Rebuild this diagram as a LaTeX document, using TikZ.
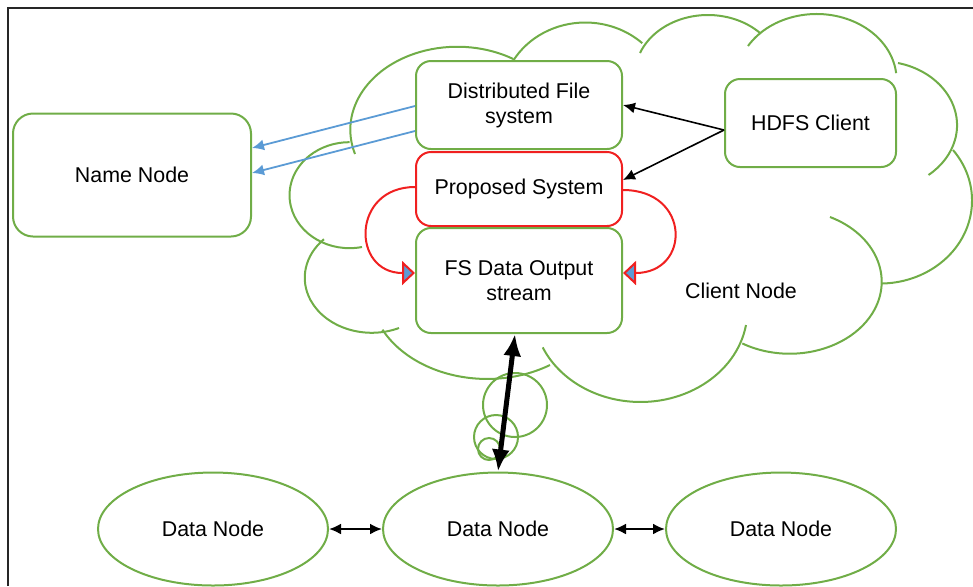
\documentclass[tikz,border=0pt]{standalone}
\usepackage{fontspec}
\setmainfont{Liberation Sans}
\usetikzlibrary{arrows.meta,positioning,shapes.geometric}
\definecolor{cloudgreen}{HTML}{70AD47}
\definecolor{linkblue}{HTML}{5B9BD5}
\definecolor{propred}{HTML}{F02020}

\begin{document}
\begin{tikzpicture}[
  x=0.5pt, y=-0.5pt,
  font=\fontsize{10.7}{12.5}\selectfont,
  box/.style={draw=cloudgreen, line width=1pt, fill=white, rounded corners=7.5pt, align=center, minimum width=103pt, inner sep=2pt},
  redbox/.style={box, draw=propred},
  datanode/.style={ellipse, draw=cloudgreen, line width=1pt, minimum width=115pt, minimum height=56.5pt, inner sep=0pt},
  cloudline/.style={draw=cloudgreen, line width=1pt},
  bluearr/.style={-{Latex[length=6pt,width=5.5pt]}, linkblue, line width=0.9pt},
  blackarr/.style={-{Latex[length=6pt,width=5.5pt]}, line width=0.8pt},
  loopred/.style={-{Triangle[fill=linkblue,length=6.5pt,width=12pt]}, propred, line width=1pt},
  bigarr/.style={{Latex[length=11pt,width=9pt]}-{Latex[length=11pt,width=9pt]}, line width=2.5pt},
  dnarr/.style={{Latex[length=6pt,width=5.5pt]}-{Latex[length=6pt,width=5.5pt]}, line width=1.1pt}
]
\useasboundingbox (0,0) rectangle (973,586);
\draw[line width=0.75pt, black!85] (8,586) -- (8,8) -- (973,8);

% client node cloud
\draw[cloudline] (355,154) arc[start angle=197, end angle=58.5, x radius=53.5pt, y radius=41.5pt];
\draw[cloudline] (513,61) arc[start angle=150, end angle=47, x radius=41.75pt, y radius=38.5pt];
\draw[cloudline] (640,53) arc[start angle=158.5, end angle=43.5, x radius=36.5pt, y radius=30pt];
\draw[cloudline] (748,46) arc[start angle=149, end angle=6, x radius=40pt, y radius=33pt];
\draw[cloudline] (898,63) arc[start angle=76.5, end angle=-51, x radius=38.5pt, y radius=32pt];
\draw[cloudline] (953,150) arc[start angle=37.5, end angle=-89, x radius=46pt, y radius=41.5pt];
\draw[cloudline] (830,217) arc[start angle=64, end angle=-121, x radius=46pt, y radius=36pt];
\draw[cloudline] (746,325) arc[start angle=-9.4, end angle=-156, x radius=53.5pt, y radius=46pt];
\draw[cloudline] (550,365) arc[start angle=-57.5, end angle=-153.5, x radius=58.5pt, y radius=44.5pt];
\draw[cloudline] (399,328) arc[start angle=-66, end angle=-224.5, x radius=33.5pt, y radius=27.5pt];
\draw[cloudline] (362,247) arc[start angle=-78, end angle=-270, x radius=30pt, y radius=26.5pt];
\draw[cloudline] (515,405) circle[radius=16pt];
\draw[cloudline] (496,437) circle[radius=11pt];
\draw[cloudline] (489,449) circle[radius=5.5pt];

\node[box, minimum height=44pt] (dfs) at (519,105) {Distributed File\\system};
\node[redbox, minimum height=37pt, below=0.5pt of dfs] (prop) {Proposed System};
\node[box, minimum height=52.5pt, below=0pt of prop] (fsout) {FS Data Output\\stream};
\node[box, minimum width=119pt, minimum height=61.5pt, rounded corners=10pt] (name) at (132,175) {Name Node};
\node[box, minimum width=85.5pt, minimum height=44pt] (hdfs) at (810.5,123) {HDFS Client};
\node (clienttxt) at (741,291) {Client Node};
\node[datanode] (dn1) at (213,529) {Data Node};
\node[datanode, right=26.5pt of dn1] (dn2) {Data Node};
\node[datanode, right=25.5pt of dn2] (dn3) {Data Node};

\draw[bluearr] ([yshift=-0.5pt]dfs.west) -- ([yshift=13.5pt]name.east);
\draw[bluearr] ([yshift=-13pt]dfs.west) -- ([yshift=1pt]name.east);
\draw[blackarr] ([yshift=-3.5pt]hdfs.west) -- (dfs.east);
\draw[blackarr] ([yshift=-3.5pt]hdfs.west) -- ([yshift=4.5pt]prop.east);
\draw[loopred] ([yshift=1pt]prop.west) to[out=180,in=180,looseness=1.9] ([yshift=3.75pt]fsout.west);
\draw[loopred] ([yshift=-0.5pt]prop.east) to[out=0,in=0,looseness=2.1] ([yshift=3.75pt]fsout.east);
\draw[bigarr] ([xshift=-2pt]fsout.south) -- (dn2.north);
\draw[dnarr] (dn1) -- (dn2);
\draw[dnarr] (dn2) -- (dn3);
\end{tikzpicture}
\end{document}
